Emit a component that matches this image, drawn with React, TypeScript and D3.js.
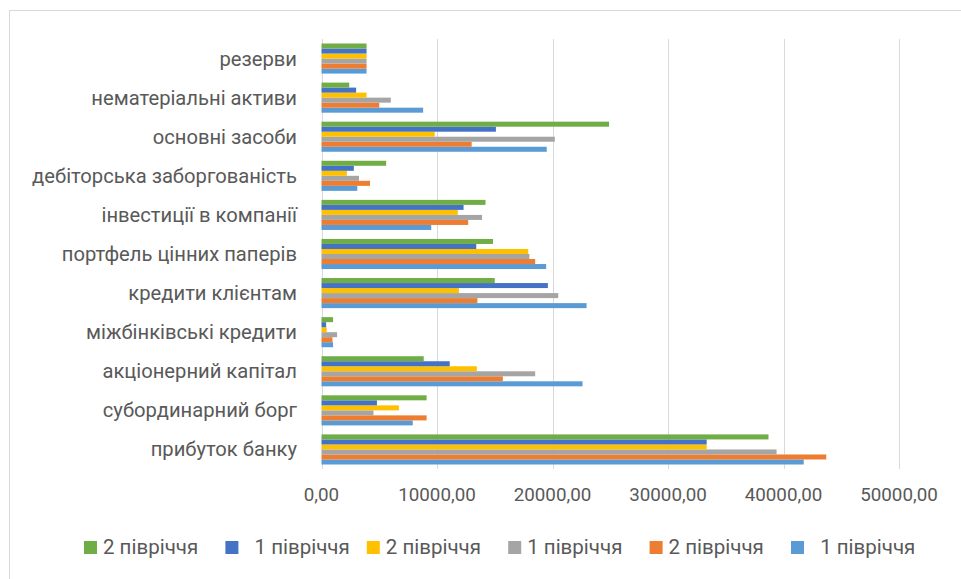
import React from "react";
import * as d3 from "d3";

// Categories listed bottom → top (first category sits at the bottom of the chart)
const categories = [
  "прибуток банку",
  "субординарний борг",
  "акціонерний капітал",
  "міжбінківські кредити",
  "кредити клієнтам",
  "портфель цінних паперів",
  "інвестиції в компанії",
  "дебіторська заборгованість",
  "основні засоби",
  "нематеріальні активи",
  "резерви",
];

const seriesNames = ["  1 півріччя", "2 півріччя", "1 півріччя", "2 півріччя", "  1 півріччя", "2 півріччя"];
const seriesColors = ["#5B9BD5", "#ED7D31", "#A5A5A5", "#FFC000", "#4472C4", "#70AD47"];

const series1 = [41750, 7900, 22600, 1000, 22950, 19450, 9500, 3100, 19500, 8800, 3900];
const series2 = [43700, 9100, 15700, 950, 13500, 18500, 12700, 4200, 13000, 5000, 3900];
const series3 = [39400, 4500, 18500, 1350, 20500, 18000, 13900, 3250, 20200, 6000, 3900];
const series4 = [33350, 6700, 13450, 450, 11900, 17900, 11800, 2200, 9800, 3900, 3900];
const series5 = [33350, 4800, 11100, 400, 19600, 13400, 12300, 2800, 15100, 3000, 3900];
const series6 = [38700, 9100, 8850, 1000, 15000, 14850, 14200, 5600, 24900, 2400, 3900];

const tickValues = [0, 10000, 20000, 30000, 40000, 50000];

const seriesValues = [series1, series2, series3, series4, series5, series6];

const W = 961;
const H = 579;
const FONT = "Roboto, 'Open Sans', sans-serif";
const TEXT = "#595959";
const GRID = "#D9D9D9";

const fmt = (v: number) => d3.format(".2f")(v).replace(".", ",");

export default function App() {
  const x = d3.scaleLinear().domain([0, 50000]).range([321.5, 899]);
  const y = d3
    .scaleBand<string>()
    .domain([...categories].reverse())
    .range([39, 469])
    .paddingInner(0.23)
    .paddingOuter(0.115);
  const seriesIdx = seriesValues.map((_, i) => i);
  // last series on top within each group
  const ySub = d3
    .scaleBand<number>()
    .domain([...seriesIdx].reverse())
    .range([0, y.bandwidth()]);

  const legendOrder = [...seriesIdx].reverse();
  const legendX = d3.scalePoint<number>().domain(legendOrder).range([84, 791]);

  return (
    <svg
      width={W}
      height={H}
      style={{ position: "absolute", left: 0, top: 0, background: "#fff" }}
      fontFamily={FONT}
    >
      <rect x={0} y={0} width={W} height={H} fill="#fff" />
      <rect x={9.5} y={10.5} width={W + 20} height={H + 20} fill="none" stroke={GRID} />

      {/* vertical gridlines */}
      {tickValues.map((t) => (
        <line
          key={t}
          x1={Math.round(x(t)) + 0.5}
          x2={Math.round(x(t)) + 0.5}
          y1={39}
          y2={469}
          stroke={GRID}
          strokeWidth={1}
        />
      ))}

      {/* bars */}
      {categories.map((c, ci) => (
        <g key={c} transform={`translate(0,${y(c)})`}>
          {seriesValues.map((vals, si) => (
            <rect
              key={si}
              x={x(0)}
              y={ySub(si)}
              width={x(vals[ci]) - x(0)}
              height={ySub.bandwidth()}
              fill={seriesColors[si]}
            />
          ))}
        </g>
      ))}

      {/* category labels */}
      {categories.map((c) => (
        <text
          key={c}
          x={297}
          y={(y(c) as number) + y.bandwidth() / 2}
          textAnchor="end"
          dominantBaseline="central"
          fontSize={20.2}
          fill={TEXT}
        >
          {c}
        </text>
      ))}

      {/* value axis labels */}
      {tickValues.map((t) => (
        <text
          key={t}
          x={x(t)}
          y={495}
          textAnchor="middle"
          dominantBaseline="central"
          fontSize={18.8}
          fill={TEXT}
        >
          {fmt(t)}
        </text>
      ))}

      {/* legend */}
      {legendOrder.map((si) => (
        <g key={si} transform={`translate(${legendX(si)},541)`}>
          <rect x={0} y={0} width={13} height={13} fill={seriesColors[si]} />
          <text
            x={19}
            y={6}
            dominantBaseline="central"
            fontSize={20.5}
            fill={TEXT}
            style={{ whiteSpace: "pre" }}
          >
            {seriesNames[si]}
          </text>
        </g>
      ))}
    </svg>
  );
}
